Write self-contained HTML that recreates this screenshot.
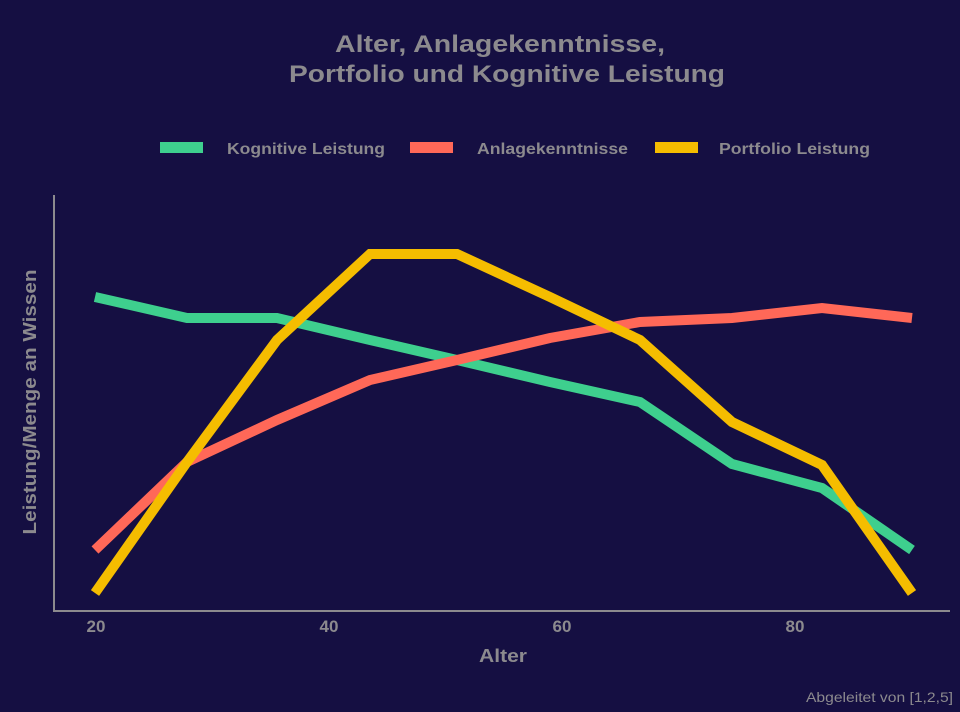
<!DOCTYPE html>
<html><head><meta charset="utf-8"><style>
html,body{margin:0;padding:0;background:#150f42;}
svg{display:block;}
text{font-family:"Liberation Sans",sans-serif;fill:#8c8a8e;font-weight:bold;}
</style></head><body>
<svg width="960" height="712" viewBox="0 0 960 712" xmlns="http://www.w3.org/2000/svg">
<rect width="960" height="712" fill="#150f42"/>
<text x="500" y="52" font-size="24" text-anchor="middle" textLength="330" lengthAdjust="spacingAndGlyphs">Alter, Anlagekenntnisse,</text>
<text x="507" y="82" font-size="24" text-anchor="middle" textLength="436" lengthAdjust="spacingAndGlyphs">Portfolio und Kognitive Leistung</text>
<rect x="160" y="142" width="43" height="11" fill="#3ecf8e"/>
<text x="227" y="154" font-size="16" textLength="158" lengthAdjust="spacingAndGlyphs">Kognitive Leistung</text>
<rect x="410" y="142" width="43" height="11" fill="#ff6858"/>
<text x="477" y="154" font-size="16" textLength="151" lengthAdjust="spacingAndGlyphs">Anlagekenntnisse</text>
<rect x="655" y="142" width="43" height="11" fill="#f5bd00"/>
<text x="719" y="154" font-size="16" textLength="151" lengthAdjust="spacingAndGlyphs">Portfolio Leistung</text>
<line x1="54" y1="195" x2="54" y2="611" stroke="#8c8a8e" stroke-width="2"/>
<line x1="53" y1="611" x2="950" y2="611" stroke="#8c8a8e" stroke-width="2"/>
<g font-size="17" text-anchor="middle">
<text x="96" y="632">20</text><text x="329" y="632">40</text><text x="562" y="632">60</text><text x="795" y="632">80</text>
</g>
<text x="503" y="662" font-size="18" text-anchor="middle" textLength="48" lengthAdjust="spacingAndGlyphs">Alter</text>
<text transform="translate(36,402) rotate(-90)" font-size="18" text-anchor="middle" textLength="265" lengthAdjust="spacingAndGlyphs">Leistung/Menge an Wissen</text>
<text x="953" y="702" font-size="14" text-anchor="end" style="font-weight:normal" textLength="147" lengthAdjust="spacingAndGlyphs">Abgeleitet von [1,2,5]</text>
<g fill="none" stroke-width="10" stroke-linejoin="miter">
<polyline stroke="#3ecf8e" points="95,297 187,318 277,318 370,340 457,360 550,382 640,402 732,464 822,488 912,550"/>
<polyline stroke="#ff6858" points="95,550 187,462 277,420 370,380 457,360 550,338 640,322 732,318 822,308 912,318"/>
<polyline stroke="#f5bd00" points="95,593 187,462 277,340 370,254 457,254 550,297 640,340 732,422 822,465 912,593"/>
</g>
</svg>
</body></html>
